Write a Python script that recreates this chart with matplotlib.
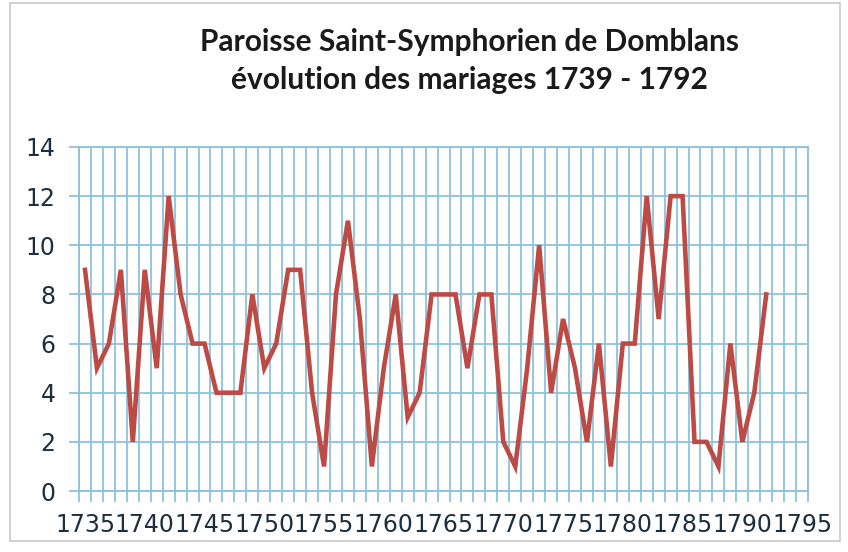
import numpy as np
import matplotlib.pyplot as plt
from matplotlib.patches import Rectangle

# marriages per year
years = list(range(1735, 1793))
mariages = [9, 5, 6, 9, 2, 9, 5, 12, 8, 6,
            6, 4, 4, 4, 8, 5, 6, 9, 9, 4,
            1, 8, 11, 7, 1, 5, 8, 3, 4, 8,
            8, 8, 5, 8, 8, 2, 1, 5, 10, 4,
            7, 5, 2, 6, 1, 6, 6, 12, 7, 12,
            12, 2, 2, 1, 6, 2, 4, 8]
xticks = list(range(1735, 1796, 5))
yticks = list(range(0, 15, 2))
title1 = "Paroisse Saint-Symphorien de Domblans"
title2 = "évolution des mariages 1739 - 1792"

grid_col = '#8cc2de'
text_col = '#1c2f3e'

fig = plt.figure(figsize=(8.48, 5.52), dpi=100)
fig.patches.append(Rectangle((0.012, 0.02), 0.978, 0.975, transform=fig.transFigure,
                             fill=False, edgecolor='#c8c8c8', linewidth=1.2))

ax = fig.add_axes([0.0932, 0.1105, 0.8597, 0.6232])
ax.plot(years, mariages, color='#bd4a44', linewidth=3.3, solid_joinstyle='miter', zorder=3)

ax.set_xlim(1734.5, 1795.5)
ax.set_ylim(0, 14)
ax.set_xticks(xticks)
ax.set_xticks(np.arange(1734.5, 1796, 1), minor=True)
ax.set_yticks(yticks)
ax.grid(True, which='minor', axis='x', color=grid_col, linewidth=1.3)
ax.grid(True, which='major', axis='y', color=grid_col, linewidth=1.3)
ax.tick_params(axis='x', which='major', length=0, pad=16, labelsize=17, labelcolor=text_col)
ax.tick_params(axis='x', which='minor', length=8, width=1.3, color=grid_col, direction='out')
ax.tick_params(axis='y', length=7, width=1.3, color=grid_col, pad=10, labelsize=17, labelcolor=text_col)
for lab in ax.get_xticklabels() + ax.get_yticklabels():
    lab.set_family('DejaVu Sans')
for s in ax.spines.values():
    s.set_color(grid_col)
    s.set_linewidth(1.3)

fig.text(0.554, 0.924, title1, ha='center', va='center', fontsize=21.5, fontweight='bold',
         family='Lato', color='#1a1a1a')
fig.text(0.554, 0.855, title2, ha='center', va='center', fontsize=21.5, fontweight='bold',
         family='Lato', color='#1a1a1a')

plt.savefig('out.png', dpi=100)
